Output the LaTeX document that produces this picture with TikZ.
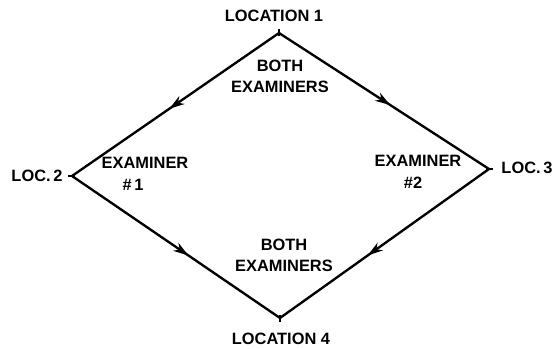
\documentclass[tikz,border=0pt]{standalone}
\usepackage{fontspec}
\setmainfont{Liberation Sans}
\usetikzlibrary{arrows.meta,decorations.markings}

\tikzset{
  lbl/.style={font=\fontsize{14}{18}\selectfont\bfseries, align=center, inner sep=0pt},
  route/.style={line width=2pt, line join=miter},
  midarrow/.style={postaction={decorate,decoration={markings,
      mark=at position #1 with {\arrow{Stealth[length=13pt,width=8pt,inset=4pt]}}}}}
}

\begin{document}
\begin{tikzpicture}[x=0.03cm,y=-0.03cm]
        \useasboundingbox (0,0) rectangle (553,349);
        % Locations (corners of the diamond)
        \coordinate (loc1) at (279,33);
        \coordinate (loc2) at (72,176);
        \coordinate (loc3) at (489,169);
        \coordinate (loc4) at (280,318);

        % Location names
        \node[lbl] (name1) at (274,16) {LOCATION 1};
        \node[lbl] (name2) at (37,176) {LOC.\,2};
        \node[lbl] (name3) at (527,168) {LOC.\,3};
        \node[lbl] (name4) at (281,339) {LOCATION 4};

        % Who walks where
        \node[lbl] (both1) at (280,76.5) {BOTH\\EXAMINERS};
        \node[lbl] (both2) at (284,255) {BOTH\\EXAMINERS};
        \node[lbl] (exam1) at (145,163) {EXAMINER};
        \node[lbl] (num1) at (133,185) {\#\,1};
        \node[lbl] (exam2) at (418,161) {EXAMINER};
        \node[lbl] (num2) at (413,183) {\#2};

        % Routes
        \draw[route,midarrow=0.53] (loc1) -- (loc2);
        \draw[route,midarrow=0.53] (loc1) -- (loc3);
        \draw[route,midarrow=0.56] (loc2) -- (loc4);
        \draw[route,midarrow=0.58] (loc3) -- (loc4);

        % small ticks at the corners
        \draw[line width=1.4pt] (loc1) +(0,-4) -- +(0,3);
        \draw[line width=1.4pt] (loc4) +(0,-3) -- +(0,4);
        \draw[line width=1.4pt] (loc2) +(-4,0) -- +(3,0);
        \draw[line width=1.4pt] (loc3) +(-3,0) -- +(4,0);
\end{tikzpicture}
\end{document}
